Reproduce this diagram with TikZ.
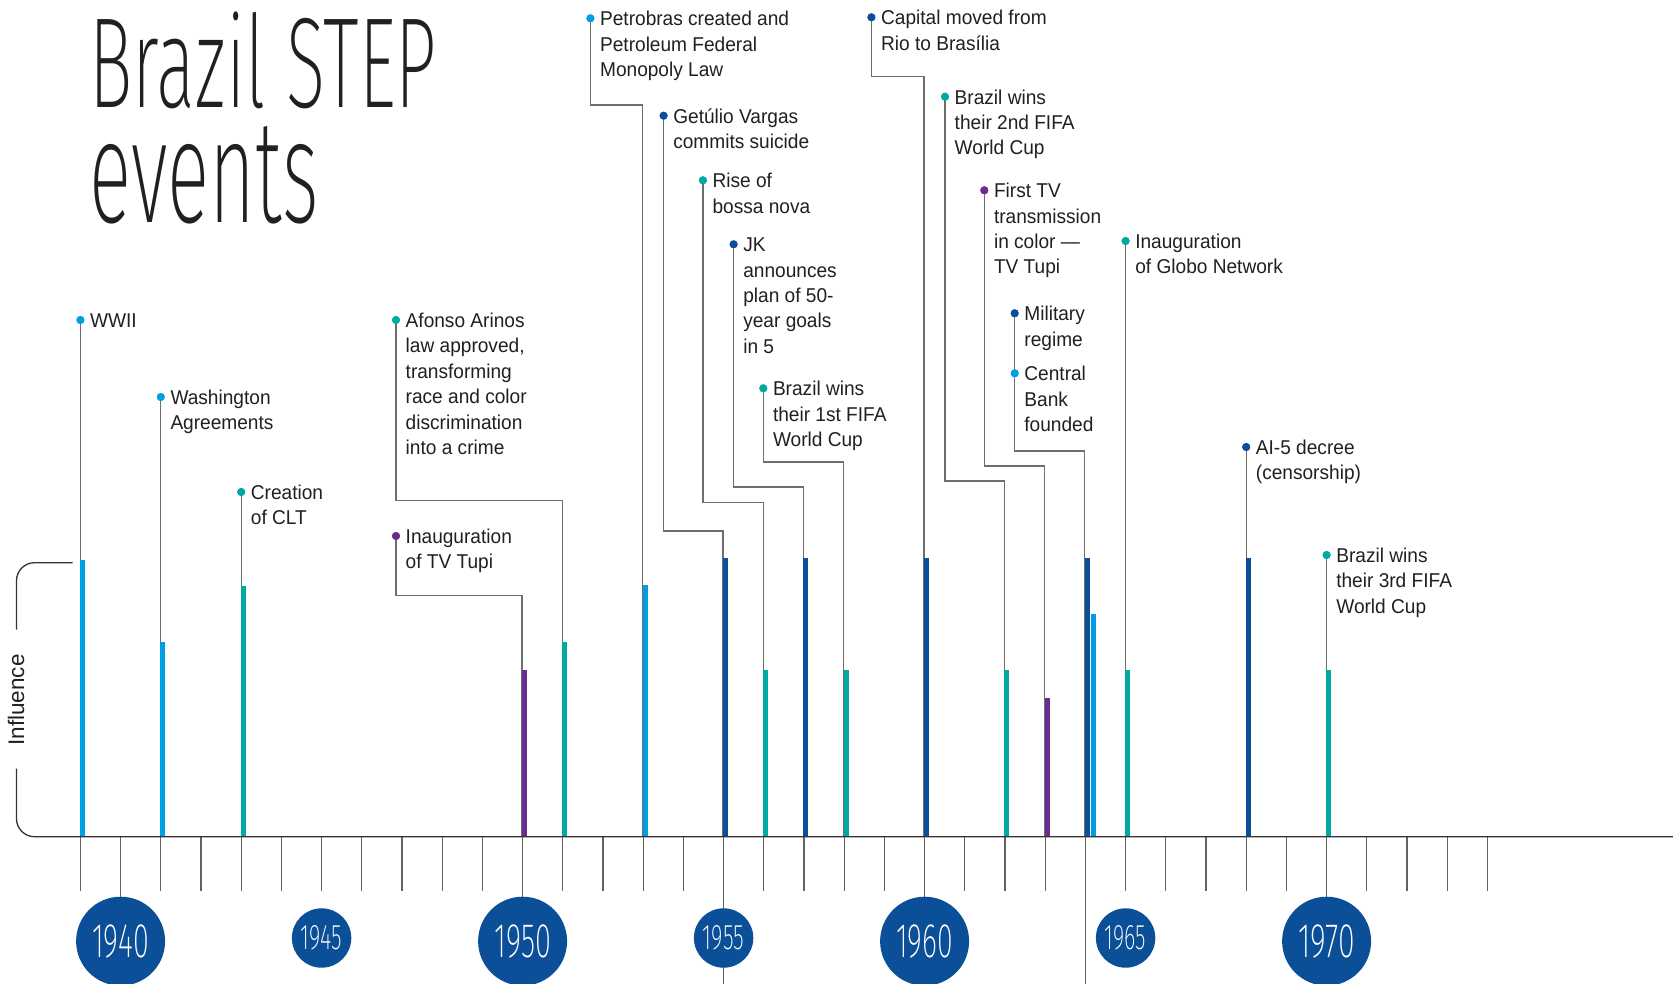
\documentclass[tikz,border=0pt]{standalone}
\usepackage{fontspec}
\usepackage{graphicx}
\setmainfont{Liberation Sans}
\newfontfamily\lblfont[FakeStretch=0.955]{Liberation Sans}
\newfontfamily\titlefont{Fira Sans ExtraLight}
\definecolor{lblue}{HTML}{009FE3}
\definecolor{tealc}{HTML}{00AAA0}
\definecolor{dblue}{HTML}{0B4F9C}
\definecolor{purp}{HTML}{6B2D8D}
\definecolor{yearblue}{HTML}{0A4F98}
\definecolor{txtc}{HTML}{231F20}
\definecolor{connc}{HTML}{6E6E6E}
\definecolor{axisc}{HTML}{333333}
\newcommand{\evtext}[1]{\parbox[t]{300pt}{\raggedright #1}}
\tikzset{
  lbl/.style={anchor=base west, inner sep=0pt, text=txtc, font=\lblfont\fontsize{20}{25.4}\selectfont},
  evdot/.style={circle, inner sep=0pt, minimum size=8pt},
  evbar/.style={anchor=south west, inner sep=0pt, minimum width=4.5pt, draw=none},
  conn/.style={draw=connc, line width=1.3pt},
  tickln/.style={draw=connc!90!black, line width=1.2pt},
  yearbig/.style={circle, fill=yearblue, inner sep=0pt, minimum size=89pt, text=white},
  yearsmall/.style={circle, fill=yearblue, inner sep=0pt, minimum size=59.4pt, text=white},
}
\begin{document}
\begin{tikzpicture}[x=1pt,y=-1pt]
\useasboundingbox (0,0) rectangle (1673,984);
\fill[white] (0,0) rectangle (1673,984);

% title
\node[anchor=base west, inner sep=0pt, text=txtc] (title1) at (89.3,107.3) {\resizebox{347pt}{95.6pt}{\titlefont Brazil STEP}};
\node[anchor=base west, inner sep=0pt, text=txtc] (title2) at (89.3,222.7) {\resizebox{229pt}{96pt}{\titlefont events}};

% ticks
\foreach \i in {0,...,35} \draw[tickln] ({80.4+40.2*\i},837) -- ++(0,54);
\foreach \xx in {120.6,522.6,924.6,1326.6} \draw[tickln] (\xx,837) -- (\xx,897);
\foreach \xx in {723.6,1085.4} \draw[tickln] (\xx,837) -- (\xx,984);

% year circles
\node[yearbig] (y1940) at (120.6,941.2) {\resizebox{56.7pt}{32.7pt}{\titlefont 1940}};
\node[yearsmall] (y1945) at (321.6,938) {\resizebox{41.3pt}{24pt}{\titlefont 1945}};
\node[yearbig] (y1950) at (522.6,941.2) {\resizebox{56.7pt}{32.7pt}{\titlefont 1950}};
\node[yearsmall] (y1955) at (723.6,938) {\resizebox{41.3pt}{24pt}{\titlefont 1955}};
\node[yearbig] (y1960) at (924.6,941.2) {\resizebox{56.7pt}{32.7pt}{\titlefont 1960}};
\node[yearsmall] (y1965) at (1125.6,938) {\resizebox{41.3pt}{24pt}{\titlefont 1965}};
\node[yearbig] (y1970) at (1326.6,941.2) {\resizebox{56.7pt}{32.7pt}{\titlefont 1970}};

% dots (positions)
\node[evdot, fill=lblue] (dWW) at (80.4,320) {};
\node[evdot, fill=lblue] (dWA) at (160.8,397) {};
\node[evdot, fill=tealc] (dCL) at (241.2,492) {};
\node[evdot, fill=tealc] (dAA) at (396,320) {};
\node[evdot, fill=purp] (dTT) at (396,536) {};
\node[evdot, fill=lblue] (dPB) at (590.4,18.3) {};
\node[evdot, fill=dblue] (dGV) at (663.6,115.7) {};
\node[evdot, fill=tealc] (dBN) at (702.9,180.3) {};
\node[evdot, fill=dblue] (dJK) at (733.6,244.3) {};
\node[evdot, fill=tealc] (dF1) at (763.3,388.3) {};
\node[evdot, fill=dblue] (dCM) at (871.4,17.3) {};
\node[evdot, fill=tealc] (dF2) at (945,96.7) {};
\node[evdot, fill=purp] (dTC) at (984.3,190.3) {};
\node[evdot, fill=dblue] (dMR) at (1014.7,313.3) {};
\node[evdot, fill=lblue] (dCB) at (1014.7,373.3) {};
\node[evdot, fill=tealc] (dGN) at (1125.6,241) {};
\node[evdot, fill=dblue] (dAI) at (1246.2,447) {};
\node[evdot, fill=tealc] (dF3) at (1326.6,555) {};

% bars
\node[evbar, fill=lblue, minimum height=276.5pt] (bWW) at (79.8,837) {};
\node[evbar, fill=lblue, minimum height=195pt] (bWA) at (160.2,837) {};
\node[evbar, fill=tealc, minimum height=251pt] (bCL) at (240.6,837) {};
\node[evbar, fill=purp, minimum height=167pt] (bTT) at (522,837) {};
\node[evbar, fill=tealc, minimum height=195pt] (bAA) at (562.2,837) {};
\node[evbar, fill=lblue, minimum height=252pt] (bPB) at (642.6,837) {};
\node[evbar, fill=dblue, minimum height=279pt] (bGV) at (723,837) {};
\node[evbar, fill=tealc, minimum height=167pt] (bBN) at (763.2,837) {};
\node[evbar, fill=dblue, minimum height=279pt] (bJK) at (803.4,837) {};
\node[evbar, fill=tealc, minimum height=167pt] (bF1) at (843.6,837) {};
\node[evbar, fill=dblue, minimum height=279pt] (bCM) at (924,837) {};
\node[evbar, fill=tealc, minimum height=167pt] (bF2) at (1004.4,837) {};
\node[evbar, fill=purp, minimum height=139pt] (bTC) at (1044.6,837) {};
\node[evbar, fill=dblue, minimum height=279pt] (bMR) at (1084.8,837) {};
\node[evbar, fill=lblue, minimum height=223pt] (bCB) at (1090.6,837) {};
\node[evbar, fill=tealc, minimum height=167pt] (bGN) at (1125,837) {};
\node[evbar, fill=dblue, minimum height=279pt] (bAI) at (1245.6,837) {};
\node[evbar, fill=tealc, minimum height=167pt] (bF3) at (1326,837) {};

% connectors
\draw[conn] (dWW.center) -- (dWW.center |- bWW.south);
\draw[conn] (dWA.center) -- (dWA.center |- bWA.south);
\draw[conn] (dCL.center) -- (dCL.center |- bCL.south);
\draw[conn] (dAA.center) -- ++(0,180.4) -| (bAA.south west);
\draw[conn] (dTT.center) -- ++(0,59.3) -| (bTT.south west);
\draw[conn] (dPB.center) -- ++(0,86.7) -| (bPB.south west);
\draw[conn] (dGV.center) -- ++(0,415.3) -| (bGV.south west);
\draw[conn] (dBN.center) -- ++(0,322) -| (bBN.south west);
\draw[conn] (dJK.center) -- ++(0,242.7) -| (bJK.south west);
\draw[conn] (dF1.center) -- ++(0,73.7) -| (bF1.south west);
\draw[conn] (dCM.center) -- ++(0,59.4) -| (bCM.south west);
\draw[conn] (dF2.center) -- ++(0,384.3) -| (bF2.south west);
\draw[conn] (dTC.center) -- ++(0,275.7) -| (bTC.south west);
\draw[conn] (dMR.center) -- ++(0,137.7) -| (bMR.south west);
\draw[conn] (dGN.center) -- (dGN.center |- bGN.south);
\draw[conn] (dAI.center) -- (dAI.center |- bAI.south);
\draw[conn] (dF3.center) -- (dF3.center |- bF3.south);

% redraw bars and dots on top of connectors
\foreach \b/\c in {bWW/lblue,bWA/lblue,bCL/tealc,bTT/purp,bAA/tealc,bPB/lblue,bGV/dblue,bBN/tealc,bJK/dblue,bF1/tealc,bCM/dblue,bF2/tealc,bTC/purp,bMR/dblue,bCB/lblue,bGN/tealc,bAI/dblue,bF3/tealc}
  \fill[\c] (\b.south west) rectangle (\b.north east);
\foreach \d/\c in {dWW/lblue,dWA/lblue,dCL/tealc,dAA/tealc,dTT/purp,dPB/lblue,dGV/dblue,dBN/tealc,dJK/dblue,dF1/tealc,dCM/dblue,dF2/tealc,dTC/purp,dMR/dblue,dCB/lblue,dGN/tealc,dAI/dblue,dF3/tealc}
  \fill[\c] (\d.center) circle (4pt);

% axis and bracket
\draw[axisc, line width=1.3pt, rounded corners=18pt] (72.7,562.7) -- (16.5,562.7) -- (16.5,629.5);
\draw[axisc, line width=1.3pt, rounded corners=18pt] (16.5,768.5) -- (16.5,836.7) -- (1673,836.7);
\node[rotate=90, anchor=base, inner sep=0pt, text=txtc, font=\fontsize{22.5}{27}\selectfont] (infl) at (24,700) {Influence};

% labels
\node[lbl] (tWW) at ([shift={(9.5,7.5)}]dWW.center) {\evtext{WWII}};
\node[lbl] (tWA) at ([shift={(9.5,7.5)}]dWA.center) {\evtext{Washington\\Agreements}};
\node[lbl] (tCL) at ([shift={(9.5,7.5)}]dCL.center) {\evtext{Creation\\of CLT}};
\node[lbl] (tAA) at ([shift={(9.5,7.5)}]dAA.center) {\evtext{Afonso Arinos\\law approved,\\transforming\\race and color\\discrimination\\into a crime}};
\node[lbl] (tTT) at ([shift={(9.5,7.5)}]dTT.center) {\evtext{Inauguration\\of TV Tupi}};
\node[lbl] (tPB) at ([shift={(9.5,7.5)}]dPB.center) {\evtext{Petrobras created and\\Petroleum Federal\\Monopoly Law}};
\node[lbl] (tGV) at ([shift={(9.5,7.5)}]dGV.center) {\evtext{Getúlio Vargas\\commits suicide}};
\node[lbl] (tBN) at ([shift={(9.5,7.5)}]dBN.center) {\evtext{Rise of\\bossa nova}};
\node[lbl] (tJK) at ([shift={(9.5,7.5)}]dJK.center) {\evtext{JK\\announces\\plan of 50-\\year goals\\in 5}};
\node[lbl] (tF1) at ([shift={(9.5,7.5)}]dF1.center) {\evtext{Brazil wins\\their 1st FIFA\\World Cup}};
\node[lbl] (tCM) at ([shift={(9.5,7.5)}]dCM.center) {\evtext{Capital moved from\\Rio to Brasília}};
\node[lbl] (tF2) at ([shift={(9.5,7.5)}]dF2.center) {\evtext{Brazil wins\\their 2nd FIFA\\World Cup}};
\node[lbl] (tTC) at ([shift={(9.5,7.5)}]dTC.center) {\evtext{First TV\\transmission\\in color —\\TV Tupi}};
\node[lbl] (tMR) at ([shift={(9.5,7.5)}]dMR.center) {\evtext{Military\\regime}};
\node[lbl] (tCB) at ([shift={(9.5,7.5)}]dCB.center) {\evtext{Central\\Bank\\founded}};
\node[lbl] (tGN) at ([shift={(9.5,7.5)}]dGN.center) {\evtext{Inauguration\\of Globo Network}};
\node[lbl] (tAI) at ([shift={(9.5,7.5)}]dAI.center) {\evtext{AI-5 decree\\(censorship)}};
\node[lbl] (tF3) at ([shift={(9.5,7.5)}]dF3.center) {\evtext{Brazil wins\\their 3rd FIFA\\World Cup}};
\end{tikzpicture}
\end{document}
